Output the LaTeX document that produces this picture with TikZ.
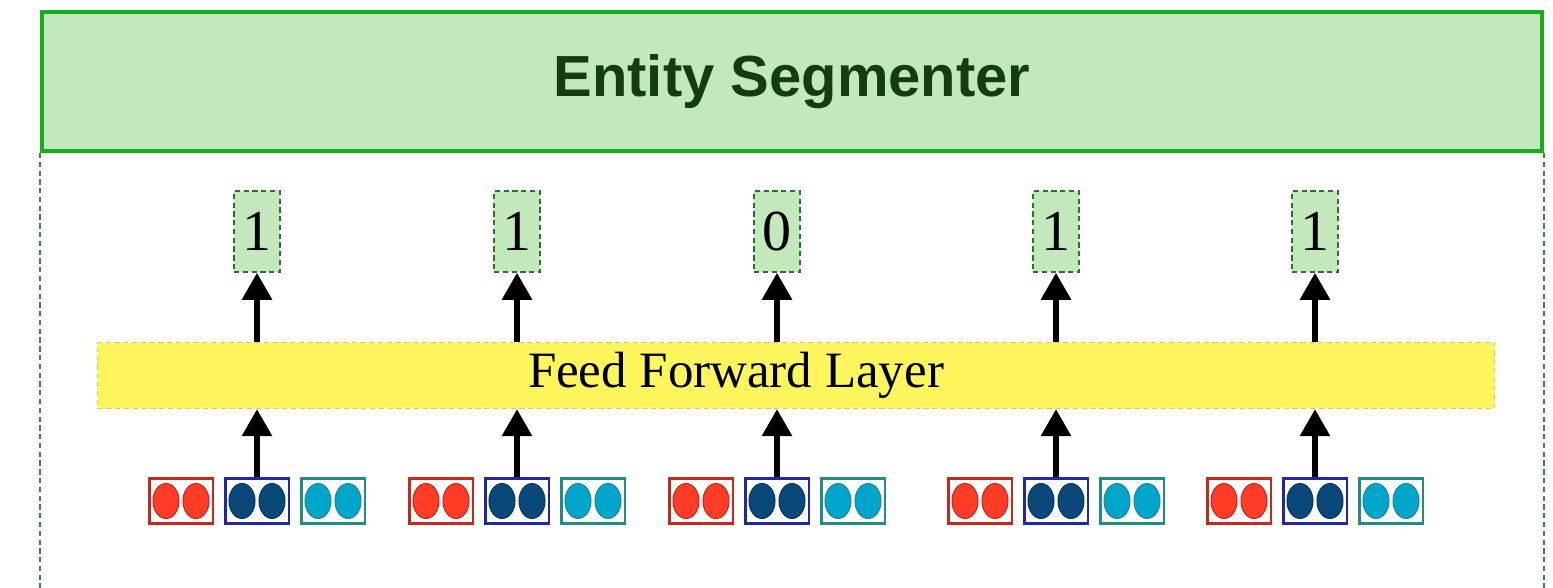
\documentclass[tikz,border=0pt]{standalone}
\usepackage{fontspec}
\newfontfamily\titlefont{Liberation Sans}
\newfontfamily\labelfont{Liberation Serif}
\usetikzlibrary{arrows.meta,calc}

\definecolor{segfill}{HTML}{C2E8BC}
\definecolor{segline}{HTML}{1AAA1A}
\definecolor{segtext}{HTML}{143D0E}
\definecolor{frameline}{HTML}{3A8A3A}
\definecolor{fffill}{HTML}{FFF65E}
\definecolor{ffline}{HTML}{F2C447}
\definecolor{redline}{HTML}{C4291E}
\definecolor{redfill}{HTML}{FF3D26}
\definecolor{blueline}{HTML}{2226A8}
\definecolor{bluefill}{HTML}{094878}
\definecolor{tealline}{HTML}{238B80}
\definecolor{tealfill}{HTML}{00A5CC}

\tikzset{
	header/.style={draw=segline, fill=segfill, line width=2.3pt, minimum width=30cm, minimum height=2.78cm, inner sep=0pt, text=segtext, font=\titlefont\bfseries\fontsize{33}{40}\selectfont},
	frame/.style={draw=frameline, densely dashed, line width=1.2pt},
	ffbox/.style={draw=ffline, fill=fffill, densely dashed, line width=0.7pt, minimum width=27.94cm, minimum height=1.32cm, inner sep=0pt},
	outbox/.style={draw=frameline!80!black, fill=segfill, densely dashed, line width=0.9pt, minimum width=0.92cm, minimum height=1.62cm, inner sep=0pt, font=\labelfont\fontsize{33}{40}\selectfont},
	tokbox/.style={fill=white, line width=1.7pt, minimum width=1.28cm, minimum height=0.9cm, inner sep=0pt},
	uparrow/.style={-{Triangle[width=0.58cm,length=0.54cm]}, line width=3.4pt}
}

% one token with its three embeddings, its arrows and its label
\newcommand{\tokgroup}[3]{
	\node[tokbox, draw=redline] (#1r) at (#2-76,501) {};
	\node[tokbox, draw=blueline] (#1b) at (#2,501) {};
	\node[tokbox, draw=tealline] (#1t) at (#2+76,501) {};
	\filldraw[fill=redfill, draw=redline, line width=0.6pt] (#2-91,501) ellipse (0.26cm and 0.35cm) (#2-61,501) ellipse (0.26cm and 0.35cm);
	\filldraw[fill=bluefill, draw=bluefill!80!black, line width=0.6pt] (#2-15,501) ellipse (0.26cm and 0.35cm) (#2+15,501) ellipse (0.26cm and 0.35cm);
	\filldraw[fill=tealfill, draw=tealline, line width=0.6pt] (#2+61,501) ellipse (0.26cm and 0.35cm) (#2+91,501) ellipse (0.26cm and 0.35cm);
	\node[outbox] (#1o) at (#2,231.5) {#3};
	\draw[uparrow] (#1b.north) -- (#1b |- ff.south);
	\draw[uparrow] (#1b |- ff.north) -- (#1o.south);
}

\begin{document}
\begin{tikzpicture}[x=0.02cm, y=-0.02cm]
\useasboundingbox (0,0) rectangle (1553,588);

\node[header] (seg) at (792,81.5) {Entity Segmenter};
\draw[frame] (seg.south west) -- (seg.south west |- 0,590);
\draw[frame] (seg.south east) -- (seg.south east |- 0,590);

\node[ffbox] (ff) at (796,375.5) {};
\node[font=\labelfont\fontsize{29}{34}\selectfont] (fftext) at (736,375) {Feed Forward Layer};

\tokgroup{a}{257}{1}
\tokgroup{b}{517}{1}
\tokgroup{c}{777}{0}
\tokgroup{d}{1056}{1}
\tokgroup{e}{1315}{1}

\end{tikzpicture}
\end{document}
